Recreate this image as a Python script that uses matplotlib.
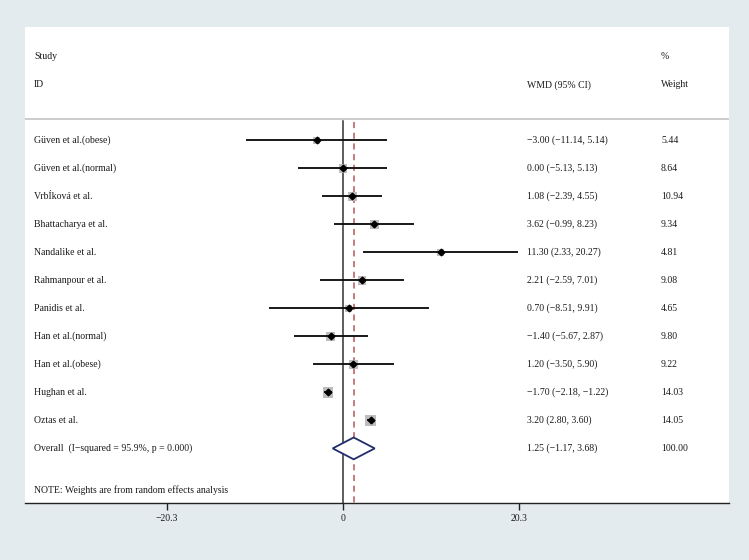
import matplotlib
matplotlib.use("Agg")
import matplotlib.pyplot as plt
from matplotlib.patches import Polygon

studies = ["Güven et al.(obese)", "Güven et al.(normal)", "VrbÍková et al.",
           "Bhattacharya et al.", "Nandalike et al.", "Rahmanpour et al.",
           "Panidis et al.", "Han et al.(normal)", "Han et al.(obese)",
           "Hughan et al.", "Oztas et al."]
est = [-3.00, 0.00, 1.08, 3.62, 11.30, 2.21, 0.70, -1.40, 1.20, -1.70, 3.20]
lo = [-11.14, -5.13, -2.39, -0.99, 2.33, -2.59, -8.51, -5.67, -3.50, -2.18, 2.80]
hi = [5.14, 5.13, 4.55, 8.23, 20.27, 7.01, 9.91, 2.87, 5.90, -1.22, 3.60]
weights = [5.44, 8.64, 10.94, 9.34, 4.81, 9.08, 4.65, 9.80, 9.22, 14.03, 14.05]
overall_label = "Overall  (I\u2212squared = 95.9%, p = 0.000)"
overall = (1.25, -1.17, 3.68)
overall_weight = "100.00"
note = "NOTE: Weights are from random effects analysis"
xticks = [-20.3, 0, 20.3]

def fmt(v):
    return f"{v:.2f}".replace("-", "\u2212")

plt.rcParams['font.family'] = ['Liberation Serif', 'DejaVu Serif']
FS = 7.0
BG = "#e4ebef"
TXT = "#1a1a1a"

fig = plt.figure(figsize=(7.49, 5.60), dpi=100, facecolor=BG)
W, H = 749, 560
left_px, right_px, top_px, bot_px = 25, 729, 27.3, 503
ax = fig.add_axes([left_px / W, 1 - bot_px / H, (right_px - left_px) / W, (bot_px - top_px) / H])
ax.set_facecolor("white")

# x scale: 0 at 342.85 px, 8.662 px per unit
x0, sc = 342.85, 8.662
ax.set_xlim((left_px - x0) / sc, (right_px - x0) / sc)
ax.set_ylim(12.95, -4.04)

for s in ["top", "left", "right"]:
    ax.spines[s].set_visible(False)
ax.spines["bottom"].set_color("#222222")
ax.spines["bottom"].set_linewidth(1.0)
ax.set_yticks([])
ax.set_xticks(xticks)
ax.set_xticklabels(["\u221220.3", "0", "20.3"], fontsize=FS, color=TXT)
ax.tick_params(axis="x", direction="out", length=5, width=1.0, color="#222222", pad=3)

sep_y = -0.76
ax.axhline(sep_y, color="#c4c4c4", lw=1.2, zorder=1)
ax.plot([0, 0], [sep_y + 0.05, 12.95], color="#333333", lw=1.1, zorder=2)
ax.plot([overall[0], overall[0]], [sep_y + 0.1, 12.95], color="#b5585a", lw=1.1,
        ls=(0, (4, 3)), zorder=2)

rows = list(range(len(studies)))
sizes = [(0.72 * (5.0 + 0.4 * w)) ** 2 for w in weights]
ax.scatter(est, rows, s=sizes, marker="s", color="#bdbdbd", zorder=3, linewidths=0)
ax.hlines(rows, lo, hi, color="#111111", lw=1.35, zorder=4)
ax.plot(est, rows, ls="none", marker="D", ms=3.4, color="black", zorder=5)

oy = len(studies)
h = 0.39
diamond = Polygon([(overall[1], oy), (overall[0], oy - h), (overall[2], oy), (overall[0], oy + h)],
                  closed=True, facecolor="white", edgecolor="#1f2d6b", lw=1.3, zorder=5)
ax.add_patch(diamond)

tr = ax.get_yaxis_transform()  # x in axes fraction, y in data
cx_lab = (34 - left_px) / (right_px - left_px)
cx_wmd = (527 - left_px) / (right_px - left_px)
cx_w = (661 - left_px) / (right_px - left_px)

kw = dict(transform=tr, fontsize=FS, va="center", ha="left", color=TXT)
ax.text(cx_lab, -2.99, "Study", **kw)
ax.text(cx_lab, -1.98, "ID", **kw)
ax.text(cx_wmd, -1.98, "WMD (95% CI)", **kw)
ax.text(cx_w, -2.99, "%", **kw)
ax.text(cx_w, -1.98, "Weight", **kw)

for i, name in enumerate(studies):
    ax.text(cx_lab, i, name, **kw)
    ax.text(cx_wmd, i, f"{fmt(est[i])} ({fmt(lo[i])}, {fmt(hi[i])})", **kw)
    ax.text(cx_w, i, f"{weights[i]:.2f}", **kw)

ax.text(cx_lab, oy, overall_label, **kw)
ax.text(cx_wmd, oy, f"{fmt(overall[0])} ({fmt(overall[1])}, {fmt(overall[2])})", **kw)
ax.text(cx_w, oy, overall_weight, **kw)
ax.text(cx_lab, 12.5, note, **kw)

fig.savefig("out.png", dpi=100, facecolor=BG)
